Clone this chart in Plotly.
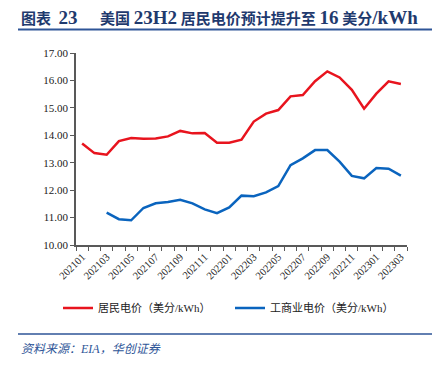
import plotly.graph_objects as go

months = ["202101","202102","202103","202104","202105","202106","202107","202108","202109",
          "202110","202111","202112","202201","202202","202203","202204","202205","202206",
          "202207","202208","202209","202210","202211","202212","202301","202302","202303"]
residential = [13.70,13.35,13.29,13.79,13.90,13.87,13.88,13.96,14.16,14.07,14.08,13.73,13.73,13.84,
               14.50,14.79,14.92,15.42,15.47,15.97,16.33,16.11,15.66,14.97,15.52,15.97,15.87]
commercial = [None,None,11.18,10.94,10.90,11.35,11.52,11.57,11.65,11.52,11.30,11.16,11.37,11.80,
              11.78,11.92,12.15,12.91,13.16,13.46,13.46,13.04,12.52,12.43,12.81,12.78,12.53]
tick_text = [m if i % 2 == 0 else "" for i, m in enumerate(months)]

W, H = 443, 371
L, R, T, B = 76, 407, 53, 245
def px(x): return (x - L) / (R - L)
def py(y): return (B - y) / (B - T)

serif = "Liberation Serif, Noto Sans CJK SC, serif"

def lat(s):
    return f"<span style='font-size:19px'>{s}</span>"

title = ("<b>图表\u00a0\u00a0" + lat("23") + "\u00a0\u00a0\u00a0\u00a0\u00a0\u00a0美国\u00a0" + lat("23H2")
         + "\u00a0居民电价预计提升至\u00a0" + lat("16") + "\u00a0美分" + lat("/kWh") + "</b>")

fig = go.Figure()
fig.add_trace(go.Scatter(x=months, y=residential, mode="lines", name="居民电价（美分/kWh）",
                         line=dict(color="#E8141E", width=2.5)))
fig.add_trace(go.Scatter(x=months, y=commercial, mode="lines", name="工商业电价（美分/kWh）",
                         line=dict(color="#0A64BE", width=2.5)))

fig.update_layout(
    width=W, height=H, autosize=False,
    margin=dict(l=L, r=W - R, t=T, b=H - B, pad=0),
    paper_bgcolor="white", plot_bgcolor="white",
    font=dict(family=serif, size=11, color="#222"),
    showlegend=True,
    legend=dict(orientation="h", xref="paper", yref="paper",
                x=px(58), y=py(308), xanchor="left", yanchor="middle",
                font=dict(size=11, color="#222"), entrywidth=127, entrywidthmode="pixels",
                itemwidth=30, bgcolor="rgba(0,0,0,0)"),
    xaxis=dict(type="category", tickmode="array", tickvals=months, ticktext=tick_text,
               range=[-0.5, len(months) - 0.5], automargin=False,
               tickson="boundaries", ticks="outside", ticklen=4, tickcolor="#595959",
               tickangle=-45, showline=True, linecolor="#595959", linewidth=1.5,
               showgrid=False, zeroline=False, tickfont=dict(size=10.5, color="#222")),
    yaxis=dict(range=[10, 17], dtick=1, tickformat=".2f", ticks="outside", ticklen=4,
               automargin=False,
               tickcolor="#595959", showline=True, linecolor="#595959", linewidth=1.5,
               showgrid=False, zeroline=False, tickfont=dict(size=11, color="#222")),
    shapes=[
        dict(type="line", xref="paper", yref="paper", x0=px(18), x1=px(432), y0=py(29.5), y1=py(29.5),
             line=dict(color="#2E5597", width=2)),
        dict(type="line", xref="paper", yref="paper", x0=px(18), x1=px(432), y0=py(334), y1=py(334),
             line=dict(color="#2E5597", width=1.5)),
    ],
    annotations=[
        dict(text=title,
             xref="paper", yref="paper", x=px(19), y=py(17), xanchor="left", yanchor="middle",
             showarrow=False, font=dict(family=serif, size=15, color="#1F3A6E")),
        dict(text="<i>资料来源：EIA，华创证券</i>",
             xref="paper", yref="paper", x=px(19), y=py(349), xanchor="left", yanchor="middle",
             showarrow=False, font=dict(family=serif, size=12, color="#2E5597")),
    ],
)

fig.write_html("out.html", config={"displayModeBar": False},
               post_script="document.body.style.margin='0';document.body.style.padding='0';")
